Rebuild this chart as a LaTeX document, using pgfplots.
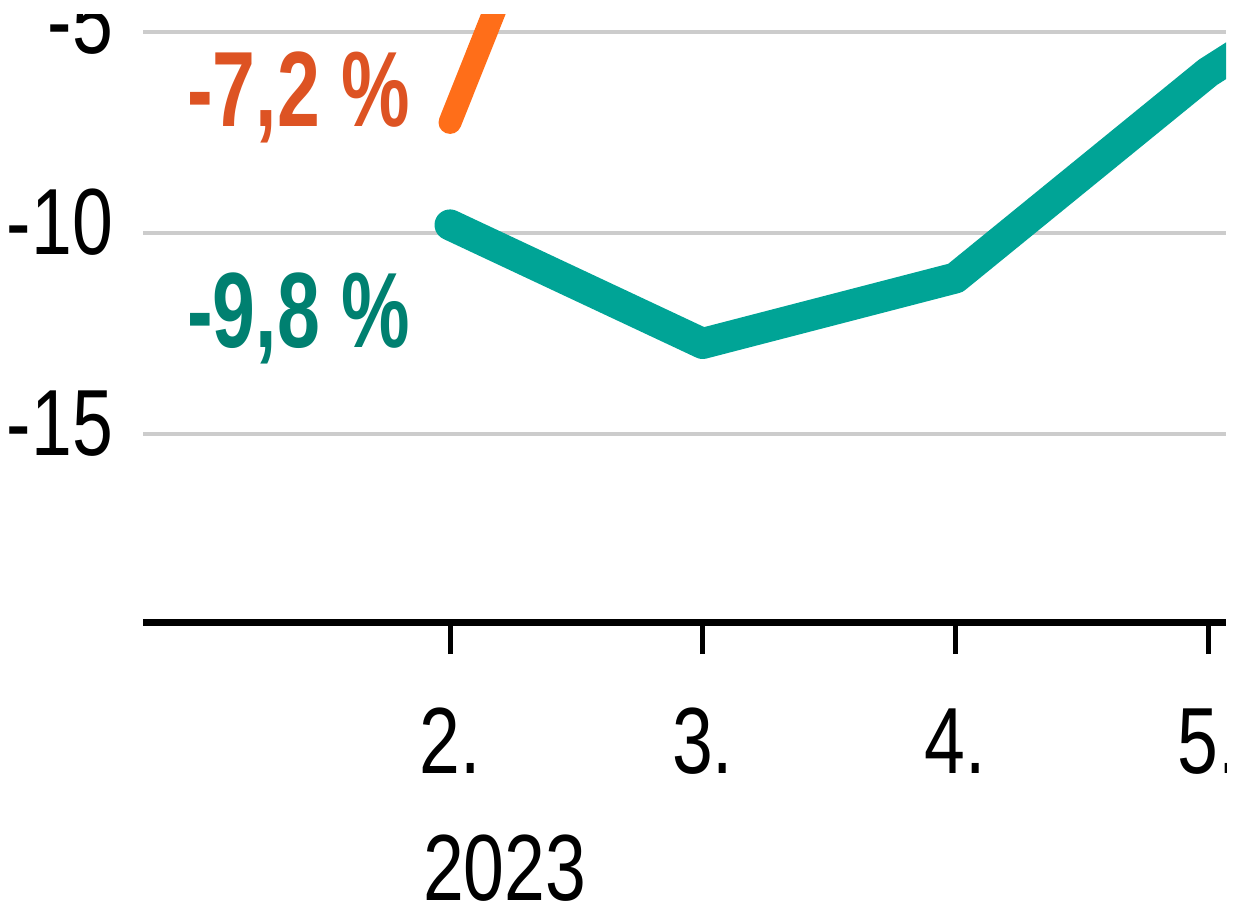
\documentclass[border=0pt]{standalone}
\usepackage{fontspec}
\setmainfont[FakeStretch=0.78]{Liberation Sans}
\newfontfamily\lblfont[FakeStretch=0.72]{Liberation Sans}
\usepackage{pgfplots}
\pgfplotsset{compat=1.18}
\definecolor{tealline}{RGB}{0,164,150}
\definecolor{teallabel}{RGB}{0,128,112}
\definecolor{orangeline}{RGB}{255,110,25}
\definecolor{orangelabel}{RGB}{221,83,35}
\definecolor{gridgray}{RGB}{204,204,204}
\begin{document}
\begin{tikzpicture}[x=1pt,y=1pt]
\useasboundingbox (0,0) rectangle (1238,906);
\begin{scope}
\clip (0,0) rectangle (1226,891);
\begin{axis}[
  at={(143pt,284pt)}, anchor=south west,
  scale only axis, width=1083pt, height=607pt,
  xmin=0.785, xmax=5.071, ymin=-19.68, ymax=-4.577,
  axis x line*=bottom, axis y line*=left,
  y axis line style={draw=none},
  x axis line style={line width=7pt, black},
  xtick={2,3,4,5}, xticklabels={2.,3.,4.,5.},
  ytick={-15,-10,-5}, yticklabels={-15,-10,-5},
  tick align=outside, major tick length=32pt,
  xtick style={black, line width=5pt},
  ytick style={draw=none},
  ymajorgrids, grid style={line width=4pt, gridgray},
  ticklabel style={font=\fontsize{94}{100}\selectfont, inner sep=0pt},
  xticklabel style={anchor=base, yshift=-119pt},
  yticklabel style={anchor=base east, yshift=-22pt, xshift=2pt},
  /pgf/number format/assume math mode=true,
]
\addplot[orangeline, line width=23pt, line cap=round, line join=round] coordinates {(2,-7.25) (3,8.5)};
\addplot[tealline, line width=31pt, line cap=round, line join=round] coordinates {(2,-9.8) (3,-12.75) (4,-11.12) (5,-6.0) (6,-2.0)};
\end{axis}
\node[anchor=base east, inner sep=0pt, text=orangelabel, font=\lblfont\bfseries\fontsize{107}{110}\selectfont] at (410,779) {-7,2 \%};
\node[anchor=base east, inner sep=0pt, text=teallabel, font=\lblfont\bfseries\fontsize{107}{110}\selectfont] at (410,558) {-9,8 \%};
\node[anchor=base west, inner sep=0pt, font=\fontsize{94}{100}\selectfont] at (423,6) {2023};
\end{scope}
\end{tikzpicture}
\end{document}
